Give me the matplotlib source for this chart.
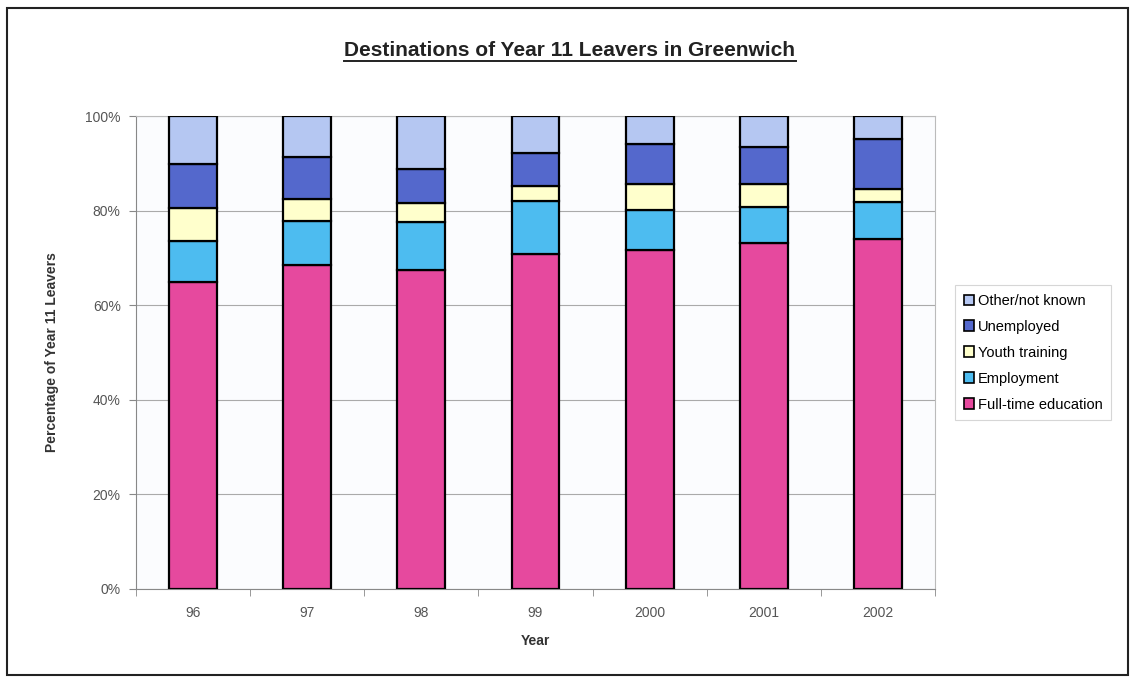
import numpy as np
import matplotlib.pyplot as plt
from matplotlib.patches import Rectangle
from matplotlib.lines import Line2D

plt.rcParams['font.family'] = ['Liberation Sans', 'DejaVu Sans']

years = ["96", "97", "98", "99", "2000", "2001", "2002"]
fulltime = [65.0, 68.5, 67.4, 70.8, 71.7, 73.1, 74.1]
employment = [8.6, 9.3, 10.2, 11.2, 8.4, 7.7, 7.7]
youth_training = [7.0, 4.6, 4.1, 3.1, 5.5, 4.8, 2.7]
unemployed = [9.3, 9.0, 7.1, 7.1, 8.5, 7.9, 10.6]
other = [10.1, 8.6, 11.2, 7.8, 5.9, 6.5, 4.9]

series = [
    ("Full-time education", fulltime, "#e6499e"),
    ("Employment", employment, "#4dbcf0"),
    ("Youth training", youth_training, "#ffffcc"),
    ("Unemployed", unemployed, "#5468cc"),
    ("Other/not known", other, "#b5c7f2"),
]

fig = plt.figure(figsize=(11.34, 6.81), dpi=100)
fig.patch.set_facecolor("white")

# outer frame
fig.patches.append(Rectangle((7 / 1134, 6 / 681), 1121 / 1134, 667 / 681,
                             transform=fig.transFigure, fill=False,
                             edgecolor="#222222", linewidth=1.5))

ax = fig.add_axes([136 / 1134, 92 / 681, 799 / 1134, 473 / 681])
ax.set_facecolor("#fbfcfe")

x = np.arange(len(years))
bottom = np.zeros(len(years))
handles = []
for label, vals, color in series:
    vals = np.array(vals)
    ax.bar(x, vals, width=0.42, bottom=bottom, color=color,
           edgecolor="black", linewidth=1.6, zorder=3)
    bottom += vals
    handles.append(Rectangle((0, 0), 1, 1, facecolor=color,
                             edgecolor="black", linewidth=1.2, label=label))

ax.set_xlim(-0.5, len(years) - 0.5)
ax.set_ylim(0, 100)
ax.set_yticks(np.arange(0, 101, 20))
ax.set_yticklabels(["{}%".format(v) for v in range(0, 101, 20)])
ax.yaxis.grid(True, color="#aaaaaa", linewidth=0.8, zorder=0)

ax.set_xticks(x)
ax.set_xticklabels(years)
ax.set_xticks(np.arange(-0.5, len(years)), minor=True)
ax.tick_params(axis="x", which="major", length=0, pad=12)
ax.tick_params(axis="x", which="minor", length=5, color="#888888")
ax.tick_params(axis="y", length=5, color="#888888", pad=6)
ax.tick_params(labelsize=10, labelcolor="#555555")

for side in ["top", "right"]:
    ax.spines[side].set_color("#bbbbbb")
for side in ["left", "bottom"]:
    ax.spines[side].set_color("#888888")

ax.set_xlabel("Year", fontsize=10, fontweight="bold", color="#333333", labelpad=10)
ax.set_ylabel("Percentage of Year 11 Leavers", fontsize=10, fontweight="bold",
              color="#333333", labelpad=19)

leg = fig.legend(handles=handles[::-1], loc="upper left",
                 bbox_to_anchor=(955 / 1134, 1 - 285 / 681), borderaxespad=0,
                 fontsize=10.5, frameon=True, fancybox=False,
                 handlelength=0.7, handleheight=0.7, handletextpad=0.25,
                 labelspacing=0.82, borderpad=0.6, edgecolor="#cccccc")
leg.get_frame().set_linewidth(0.8)

title = fig.text(570 / 1134, 1 - 50 / 681, "Destinations of Year 11 Leavers in Greenwich",
                 ha="center", va="center", fontsize=15, fontweight="bold",
                 color="#222222")

fig.canvas.draw()
bb = title.get_window_extent().transformed(fig.transFigure.inverted())
fig.lines.append(Line2D([bb.x0, bb.x1], [bb.y0 - 0.002, bb.y0 - 0.002],
                        transform=fig.transFigure, color="#222222", linewidth=1.4))

fig.savefig("out.png", dpi=100)
